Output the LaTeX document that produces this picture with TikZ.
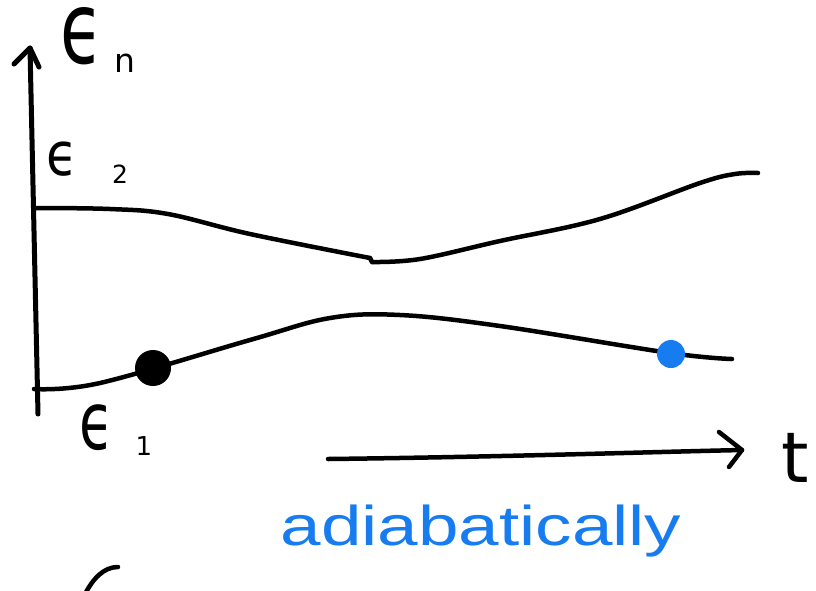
\documentclass[tikz,border=0pt]{standalone}
\usepackage{fontspec}
\newfontfamily\handsans{Liberation Sans}
\newfontfamily\penfont{DejaVu Sans}
\usetikzlibrary{arrows.meta}
\definecolor{bluepen}{RGB}{22,124,240}
\tikzset{
  pen/.style={line width=4.5pt, line cap=round, line join=round, black},
  axispen/.style={line width=5pt, line cap=round, line join=round, black},
  dotblack/.style={circle, fill=black, inner sep=0pt, minimum size=36pt},
  dotblue/.style={circle, fill=bluepen, inner sep=0pt, minimum size=28pt},
  lbl/.style={inner sep=0pt, text=black, font=\penfont, anchor=base},
}
\begin{document}
\begin{tikzpicture}[x=1pt, y=-1pt]
\useasboundingbox (0,0) rectangle (816,590);
% vertical axis
\coordinate (ybot) at (38,414);
\coordinate (ytop) at (30,48);
\coordinate (yarmL) at (14,64);
\coordinate (yarmR) at (39,67);
\draw[axispen] (ybot) -- (ytop);
\draw[axispen] (yarmL) -- (ytop) -- (yarmR);
% labels
\node[lbl] (eps-n) at (82,63) {\smash{\scalebox{0.7}[1]{\fontsize{100}{100}\selectfont ϵ}}};
\node[lbl] (sub-n) at (125,72) {\fontsize{33}{33}\selectfont n};
\node[lbl] (eps-2) at (62,175) {\scalebox{0.85}[1]{\fontsize{60}{60}\selectfont ϵ}};
\node[lbl] (sub-2) at (120,183) {\fontsize{25}{25}\selectfont 2};
\node[lbl] (eps-1) at (97,449) {\scalebox{0.7}[1]{\fontsize{80}{80}\selectfont ϵ}};
\node[lbl] (sub-1) at (144,455) {\fontsize{26}{26}\selectfont 1};
% energy levels
\draw[pen] plot[smooth, tension=0.6] coordinates {(36,208) (110,209) (168,214) (250,234) (370,258)};
\draw[pen] (370,258) -- (372,262);
\draw[pen] plot[smooth, tension=0.6] coordinates {(372,262) (420,259) (500,241) (600,219) (700,183) (735,174) (758,173)};
\draw[pen] plot[smooth, tension=0.6] coordinates {(34,389) (100,383) (250,340) (330,318) (400,315) (500,326) (670,353) (732,359)};
% dots
\node[dotblack] (start) at (153,368) {};
\node[dotblue] (end) at (671,354) {};
% time arrow
\coordinate (tstart) at (328,459);
\coordinate (tend) at (742,450);
\coordinate (tarmU) at (719,432);
\coordinate (tarmD) at (729,467);
\draw[pen] (tstart) .. controls (500,457) and (650,452) .. (tend);
\draw[pen] (tarmU) -- (tend) -- (tarmD);
\node[lbl] (tlabel) at (795,482) {\fontsize{70}{70}\selectfont t};
% adiabatically
\node[inner sep=0pt, anchor=base, text=bluepen] (adia) at (481,545) {\scalebox{1.3}[1]{\handsans\fontsize{56}{56}\selectfont adiabatically}};
% partial stroke at bottom
\coordinate (pA) at (84,596);
\coordinate (pB) at (118,567);
\draw[pen] (pA) .. controls (93,578) and (104,567) .. (pB);
\end{tikzpicture}
\end{document}
